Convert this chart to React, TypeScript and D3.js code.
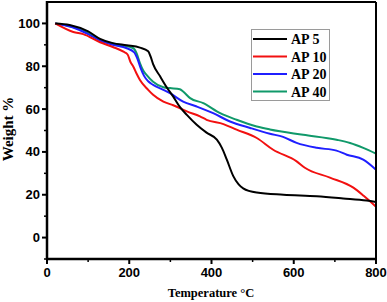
import React, { useEffect, useRef } from 'react';
import * as d3 from 'd3';

// TGA curves: [temperature °C, weight %]
const ap5: [number, number][] = [
  [20, 100], [55, 99.3], [100, 96.3], [129, 92.8], [160, 90.8], [194, 89.8], [226, 88.7],
  [246, 87], [252, 84.5], [258, 81], [275, 75.3], [291, 70.2], [307, 65.8], [323, 61],
  [340, 57.3], [364, 52.7], [388, 49], [413, 45.7], [425, 42], [437, 36.5], [453, 28.7],
  [466, 24.8], [477, 23], [510, 21], [575, 20], [656, 19.3], [720, 18.3], [777, 17.3], [800, 16.6],
];
const ap10: [number, number][] = [
  [20, 100], [64, 96], [88, 95], [129, 91.2], [160, 89], [186, 86.8], [196, 85.5], [203, 82],
  [210, 79.8], [218, 76.5], [226, 73.6], [246, 69], [258, 66.7], [283, 63.5], [307, 61.8],
  [340, 58.9], [372, 56.6], [388, 55], [429, 53], [461, 50.4], [510, 46.5], [550, 41],
  [607, 35.6], [627, 32.6], [688, 28], [745, 23.3], [770, 19.5], [800, 14.4],
];
const ap20: [number, number][] = [
  [20, 100], [60, 98.3], [100, 95], [129, 92], [160, 90], [194, 88.4], [212, 86.5], [220, 83.5],
  [228, 79], [236, 75.5], [246, 73], [258, 71.3], [283, 69], [299, 67.4], [331, 63.5],
  [364, 61.2], [404, 58.1], [445, 54.2], [494, 51.2], [542, 48.5], [574, 47], [607, 44.2],
  [656, 41.9], [704, 40.6], [729, 38.7], [769, 36.4], [800, 31.7],
];
const ap40: [number, number][] = [
  [20, 100], [60, 98.5], [100, 95.5], [129, 92.2], [178, 89.9], [210, 88.4], [218, 86],
  [226, 81.5], [234, 78], [242, 76], [258, 72.8], [283, 70.2], [299, 69.8], [323, 69.3],
  [331, 68.2], [348, 65.1], [380, 62.8], [421, 58.1], [461, 55], [510, 51.9], [542, 50.5],
  [623, 48], [704, 45.7], [737, 44.2], [769, 41.9], [800, 39.2],
];

const seriesNames = ['AP 5', 'AP 10', 'AP 20', 'AP 40'];
const seriesColors = ['#000000', '#f21010', '#1f1fff', '#10996a'];
const xTicks = [0, 200, 400, 600, 800];
const xMinor = [100, 300, 500, 700];
const yTicks = [0, 20, 40, 60, 80, 100];
const yMinor = [-10, 10, 30, 50, 70, 90];

const W = 387;
const H = 302;

const App: React.FC = () => {
  const svgRef = useRef<SVGSVGElement>(null);

  useEffect(() => {
    if (!svgRef.current) return;
    const svg = d3.select(svgRef.current);
    svg.selectAll('*').remove();

    const left = 47, right = 376, top = 2, bottom = 259;
    const x = d3.scaleLinear().domain([0, 800]).range([left, right]);
    const y = d3.scaleLinear().domain([-10, 110]).range([bottom, top]);

    svg.append('rect').attr('width', W).attr('height', H).attr('fill', '#fff');

    // curves
    const line = d3.line<[number, number]>()
      .x(d => x(d[0]))
      .y(d => y(d[1]))
      .curve(d3.curveMonotoneX);

    const all = [ap5, ap10, ap20, ap40];
    // draw green/blue first so black and red stay on top like the original
    [3, 2, 1, 0].forEach(i => {
      svg.append('path')
        .attr('d', line(all[i]))
        .attr('fill', 'none')
        .attr('stroke', seriesColors[i])
        .attr('stroke-width', 2);
    });

    // frame
    svg.append('line').attr('x1', left).attr('x2', right).attr('y1', top).attr('y2', top)
      .attr('stroke', '#000').attr('stroke-width', 2);
    svg.append('line').attr('x1', right).attr('x2', right).attr('y1', top).attr('y2', bottom)
      .attr('stroke', '#000').attr('stroke-width', 2);

    // bottom axis
    const xAxis = svg.append('g').attr('transform', `translate(0,${bottom})`);
    xAxis.append('line').attr('x1', left - 1).attr('x2', right + 1)
      .attr('stroke', '#000').attr('stroke-width', 2.5);
    xAxis.selectAll('line.major').data(xTicks).enter().append('line')
      .attr('x1', d => x(d)).attr('x2', d => x(d)).attr('y1', 0).attr('y2', 5)
      .attr('stroke', '#000').attr('stroke-width', 2);
    xAxis.selectAll('line.minor').data(xMinor).enter().append('line')
      .attr('x1', d => x(d)).attr('x2', d => x(d)).attr('y1', 0).attr('y2', 3)
      .attr('stroke', '#000').attr('stroke-width', 1.5);
    xAxis.selectAll('text').data(xTicks).enter().append('text')
      .attr('x', d => x(d)).attr('y', 18)
      .attr('text-anchor', 'middle')
      .attr('font-family', 'Liberation Sans, Arial, sans-serif')
      .attr('font-weight', 'bold').attr('font-size', 13)
      .text(d => d);

    // left axis
    const yAxis = svg.append('g').attr('transform', `translate(${left},0)`);
    yAxis.append('line').attr('y1', top - 1).attr('y2', bottom + 1)
      .attr('stroke', '#000').attr('stroke-width', 2.5);
    yAxis.selectAll('line.major').data(yTicks).enter().append('line')
      .attr('y1', d => y(d)).attr('y2', d => y(d)).attr('x1', 0).attr('x2', -5)
      .attr('stroke', '#000').attr('stroke-width', 2);
    yAxis.selectAll('line.minor').data(yMinor).enter().append('line')
      .attr('y1', d => y(d)).attr('y2', d => y(d)).attr('x1', 0).attr('x2', -3)
      .attr('stroke', '#000').attr('stroke-width', 1.5);
    yAxis.selectAll('text').data(yTicks).enter().append('text')
      .attr('x', -7).attr('y', d => y(d))
      .attr('text-anchor', 'end').attr('dominant-baseline', 'central')
      .attr('font-family', 'Liberation Sans, Arial, sans-serif')
      .attr('font-weight', 'bold').attr('font-size', 13)
      .text(d => d);

    // axis titles
    svg.append('text')
      .attr('transform', 'translate(13,129) rotate(-90)')
      .attr('text-anchor', 'middle')
      .attr('font-family', 'Liberation Serif, Times New Roman, serif')
      .attr('font-weight', 'bold').attr('font-size', 15)
      .text('Weight %');
    svg.append('text')
      .attr('x', 211).attr('y', 297)
      .attr('text-anchor', 'middle')
      .attr('font-family', 'Liberation Serif, Times New Roman, serif')
      .attr('font-weight', 'bold').attr('font-size', 12.5)
      .text('Temperature °C');

    // legend
    const lg = svg.append('g');
    lg.append('rect')
      .attr('x', 251.5).attr('y', 29.5).attr('width', 78).attr('height', 71)
      .attr('fill', '#fff').attr('stroke', '#9a9a9a').attr('stroke-width', 1);
    seriesNames.forEach((name, i) => {
      const cy = 39 + i * 17.5;
      lg.append('line')
        .attr('x1', 253).attr('x2', 287).attr('y1', cy).attr('y2', cy)
        .attr('stroke', seriesColors[i]).attr('stroke-width', 2);
      lg.append('text')
        .attr('x', 291).attr('y', cy + 5)
        .attr('font-family', 'Liberation Serif, Times New Roman, serif')
        .attr('font-weight', 'bold').attr('font-size', 14)
        .text(name);
    });
  }, []);

  return (
    <svg
      ref={svgRef}
      width={W}
      height={H}
      style={{ position: 'absolute', left: 0, top: 0 }}
    />
  );
};

export default App;
